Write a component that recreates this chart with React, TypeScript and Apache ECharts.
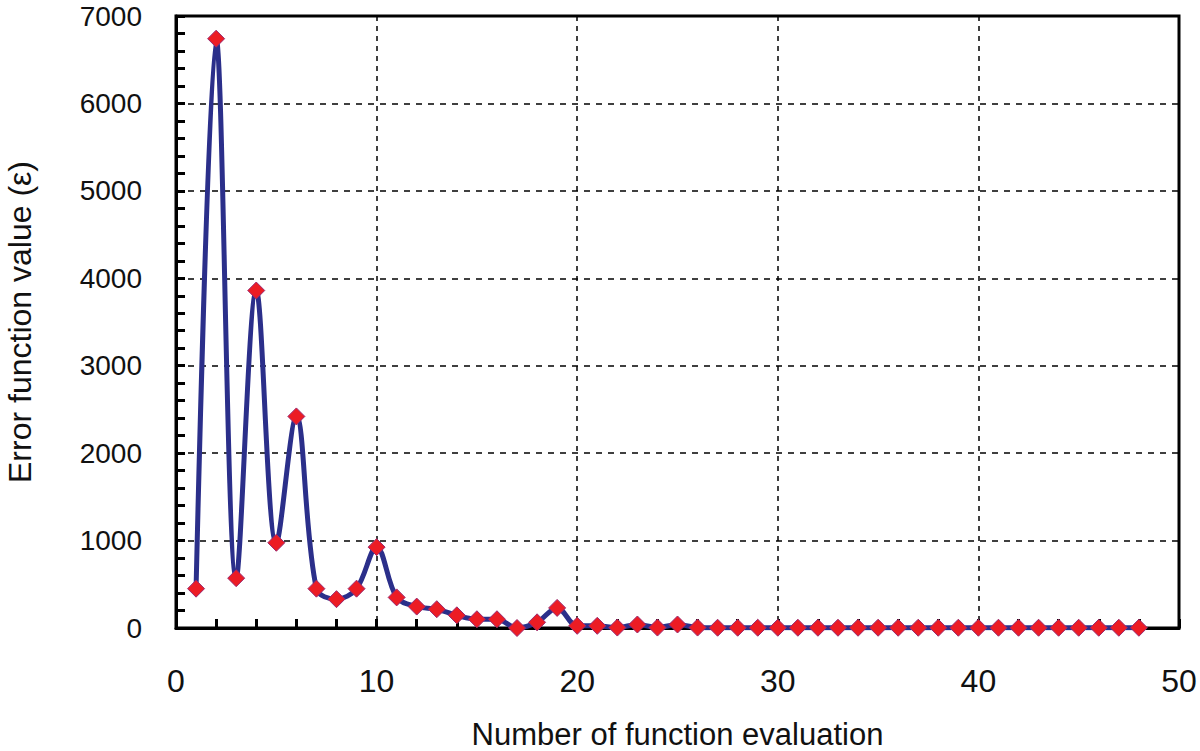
import React, { useEffect, useRef } from "react";
import * as echarts from "echarts";

const evaluations: number[] = [
  1, 2, 3, 4, 5, 6, 7, 8, 9, 10, 11, 12, 13, 14, 15, 16, 17, 18, 19, 20, 21, 22, 23, 24,
  25, 26, 27, 28, 29, 30, 31, 32, 33, 34, 35, 36, 37, 38, 39, 40, 41, 42, 43, 44, 45, 46, 47, 48,
];
const errorValues: number[] = [
  450, 6740, 570, 3860, 975, 2420, 450, 330, 450, 925, 350, 245, 215, 145, 100, 100, 0, 65,
  230, 25, 25, 5, 40, 5, 40, 5, 3, 3, 3, 3, 3, 3, 3, 3, 3, 3, 3, 3, 3, 3, 3, 3, 3, 3, 3, 3, 3, 3,
];
const xTitle = "Number of function evaluation";
const yTitle = "Error function value (\u03b5)";

const FONT = "'Liberation Sans', Arial, sans-serif";

export default function App() {
  const ref = useRef<HTMLDivElement>(null);
  useEffect(() => {
    if (!ref.current) return;
    const chart = echarts.init(ref.current, undefined, { renderer: "svg" });
    const data = evaluations.map((x, i) => [x, errorValues[i]]);
    chart.setOption({
      animation: false,
      backgroundColor: "#ffffff",
      grid: {
        left: 176,
        top: 16,
        right: 21,
        bottom: 123,
        outerBoundsMode: "none",
        containLabel: false,
        show: true,
        borderColor: "#000",
        borderWidth: 3,
        backgroundColor: "transparent",
      },
      xAxis: {
        type: "value",
        min: 0,
        max: 50,
        interval: 10,
        name: xTitle,
        nameLocation: "middle",
        nameGap: 92,
        nameTextStyle: { fontFamily: FONT, fontSize: 31, lineHeight: 29, color: "#111" },
        axisLine: { show: true, lineStyle: { color: "#000", width: 3 } },
        axisTick: { show: true, inside: true, length: 9, lineStyle: { color: "#000", width: 3 } },
        minorTick: { show: true, splitNumber: 5, length: 9, lineStyle: { color: "#000", width: 3 } },
        axisLabel: { fontFamily: FONT, fontSize: 32, color: "#111", margin: 37, formatter: (v: number) => String(v) },
        splitLine: { show: true, lineStyle: { color: "#000", width: 1.5, type: [5, 5] } },
      },
      yAxis: {
        type: "value",
        min: 0,
        max: 7000,
        interval: 1000,
        name: yTitle,
        nameLocation: "middle",
        nameGap: 140,
        nameRotate: 90,
        nameTextStyle: { fontFamily: FONT, fontSize: 32, color: "#111" },
        axisLine: { show: true, lineStyle: { color: "#000", width: 3 } },
        axisTick: { show: true, inside: true, length: 9, lineStyle: { color: "#000", width: 3 } },
        minorTick: { show: true, splitNumber: 5, length: 9, lineStyle: { color: "#000", width: 3 } },
        axisLabel: {
          fontFamily: FONT,
          fontSize: 28,
          color: "#111",
          margin: 34,
          formatter: (v: number) => String(v),
        },
        splitLine: { show: true, lineStyle: { color: "#000", width: 1.5, type: [6, 6] } },
      },
      series: [
        {
          type: "line",
          data,
          smooth: 0.35,
          symbol: "diamond",
          symbolSize: [17, 17],
          lineStyle: { color: "#2B2F8A", width: 5 },
          itemStyle: { color: "#EC1C24", borderColor: "#9A2A70", borderWidth: 1 },
          z: 5,
        },
      ],
    });
    return () => chart.dispose();
  }, []);
  return (
    <div
      ref={ref}
      style={{ position: "fixed", left: 0, top: 0, width: 1200, height: 751 }}
    />
  );
}
